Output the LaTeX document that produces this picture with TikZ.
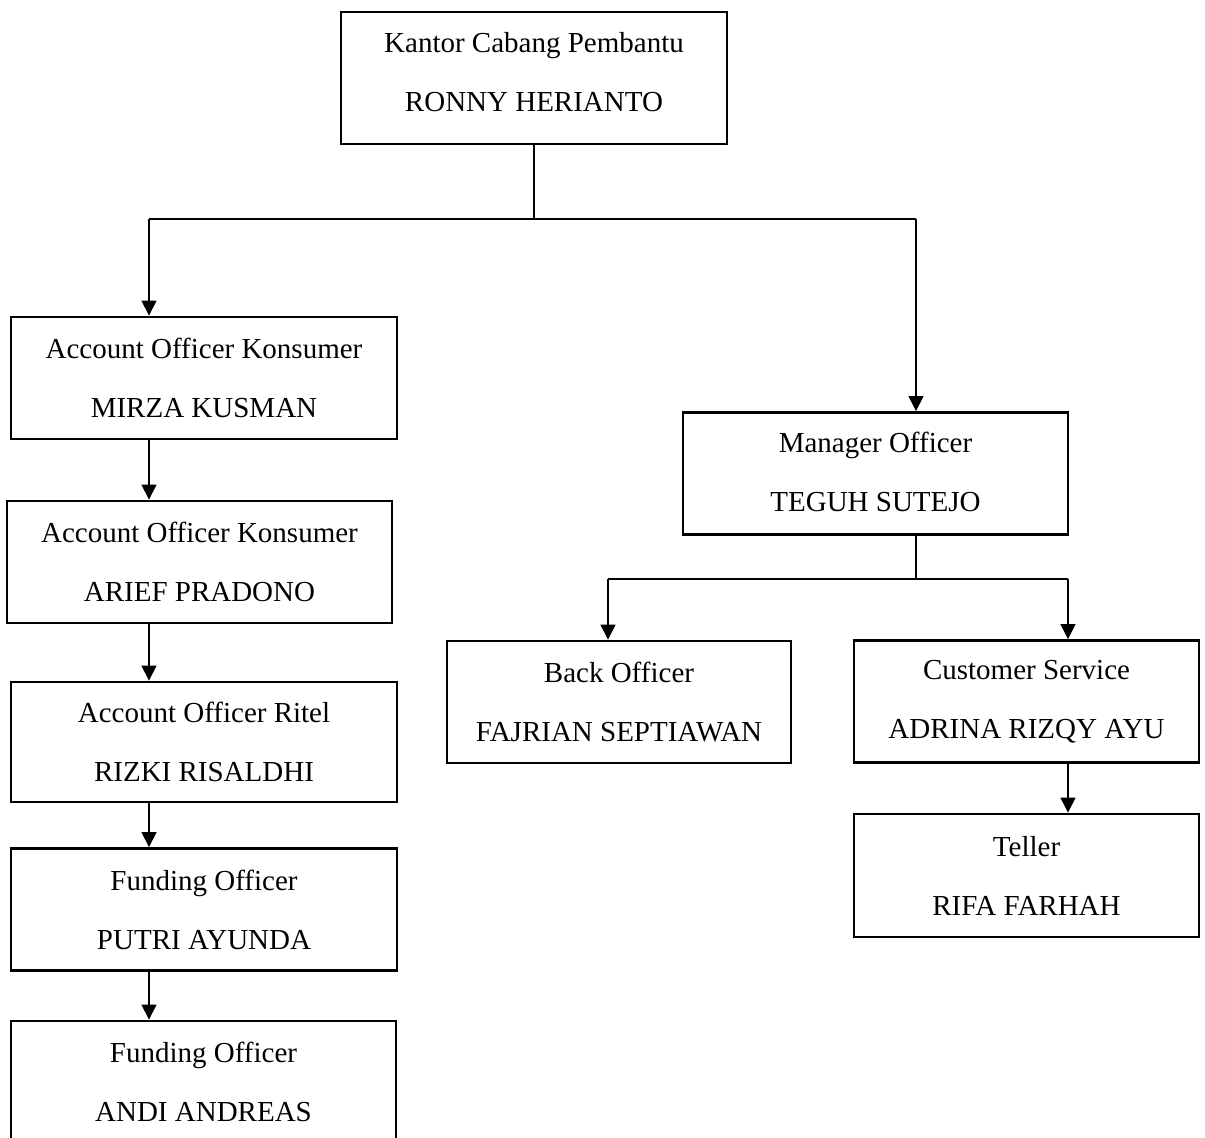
\documentclass[tikz,border=0pt]{standalone}
\usepackage{fontspec}
\setmainfont{Liberation Serif}
\usetikzlibrary{%
  arrows.meta,%
  calc%
}
\tikzset{>={Triangle[length=7.5pt,width=7.5pt]}}
\tikzset{
  jabatan/.style={draw,line width=1.4pt,inner sep=0pt,align=center,
    minimum width=193pt,minimum height=61pt,
    font=\fontsize{14.5}{29.5}\selectfont},
  garis/.style={line width=0.6pt}
}

\begin{document}
\begin{tikzpicture}[x=0.5pt,y=-0.5pt]
    \useasboundingbox (0,0) rectangle (1205,1138);

    \node[jabatan,minimum height=66pt,text depth=6pt] (kcp) at (534,78) {Kantor Cabang Pembantu\\RONNY HERIANTO};

    \node[jabatan] (aok1) at (204,378) {Account Officer Konsumer\\MIRZA KUSMAN};
    \node[jabatan,minimum width=192.5pt] (aok2) at (199.5,562) {Account Officer Konsumer\\ARIEF PRADONO};
    \node[jabatan,minimum height=60pt] (aor) at (204,742) {Account Officer Ritel\\RIZKI RISALDHI};
    \node[jabatan] (fo1) at (204,909.5) {Funding Officer\\PUTRI AYUNDA};
    \node[jabatan,minimum width=192.5pt] (fo2) at (203.5,1082) {Funding Officer\\ANDI ANDREAS};

    \node[jabatan,minimum width=192.5pt,text depth=2pt] (mo) at (875.5,473.5) {Manager Officer\\TEGUH SUTEJO};
    \node[jabatan,minimum width=172pt] (bo) at (619,702) {Back Officer\\FAJRIAN SEPTIAWAN};
    \node[jabatan,minimum width=172.5pt] (cs) at (1026.5,701.5) {Customer Service\\ADRINA RIZQY AYU};
    \node[jabatan,minimum width=172.5pt,minimum height=61.5pt] (tel) at (1026.5,875.5) {Teller\\RIFA FARHAH};

    \coordinate (cabang) at (534,219);
    \coordinate (kiri) at (149,219);
    \coordinate (kanan) at (916,219);
    \coordinate (mo-cabang) at (916,579);
    \coordinate (bo-x) at (608,579);
    \coordinate (cs-x) at (1068,579);

    \draw[garis] (kcp.south) -- (cabang);
    \draw[garis] (kiri) -- (kanan);
    \draw[garis,->] (kiri) -- (kiri |- aok1.north);
    \draw[garis,->] (kanan) -- (kanan |- mo.north);

    \draw[garis,->] (kiri |- aok1.south) -- (kiri |- aok2.north);
    \draw[garis,->] (kiri |- aok2.south) -- (kiri |- aor.north);
    \draw[garis,->] (kiri |- aor.south) -- (kiri |- fo1.north);
    \draw[garis,->] (kiri |- fo1.south) -- (kiri |- fo2.north);

    \draw[garis] (mo-cabang |- mo.south) -- (mo-cabang);
    \draw[garis] (bo-x) -- (cs-x);
    \draw[garis,->] (bo-x) -- (bo-x |- bo.north);
    \draw[garis,->] (cs-x) -- (cs-x |- cs.north);
    \draw[garis,->] (cs-x |- cs.south) -- (cs-x |- tel.north);
\end{tikzpicture}
\end{document}
